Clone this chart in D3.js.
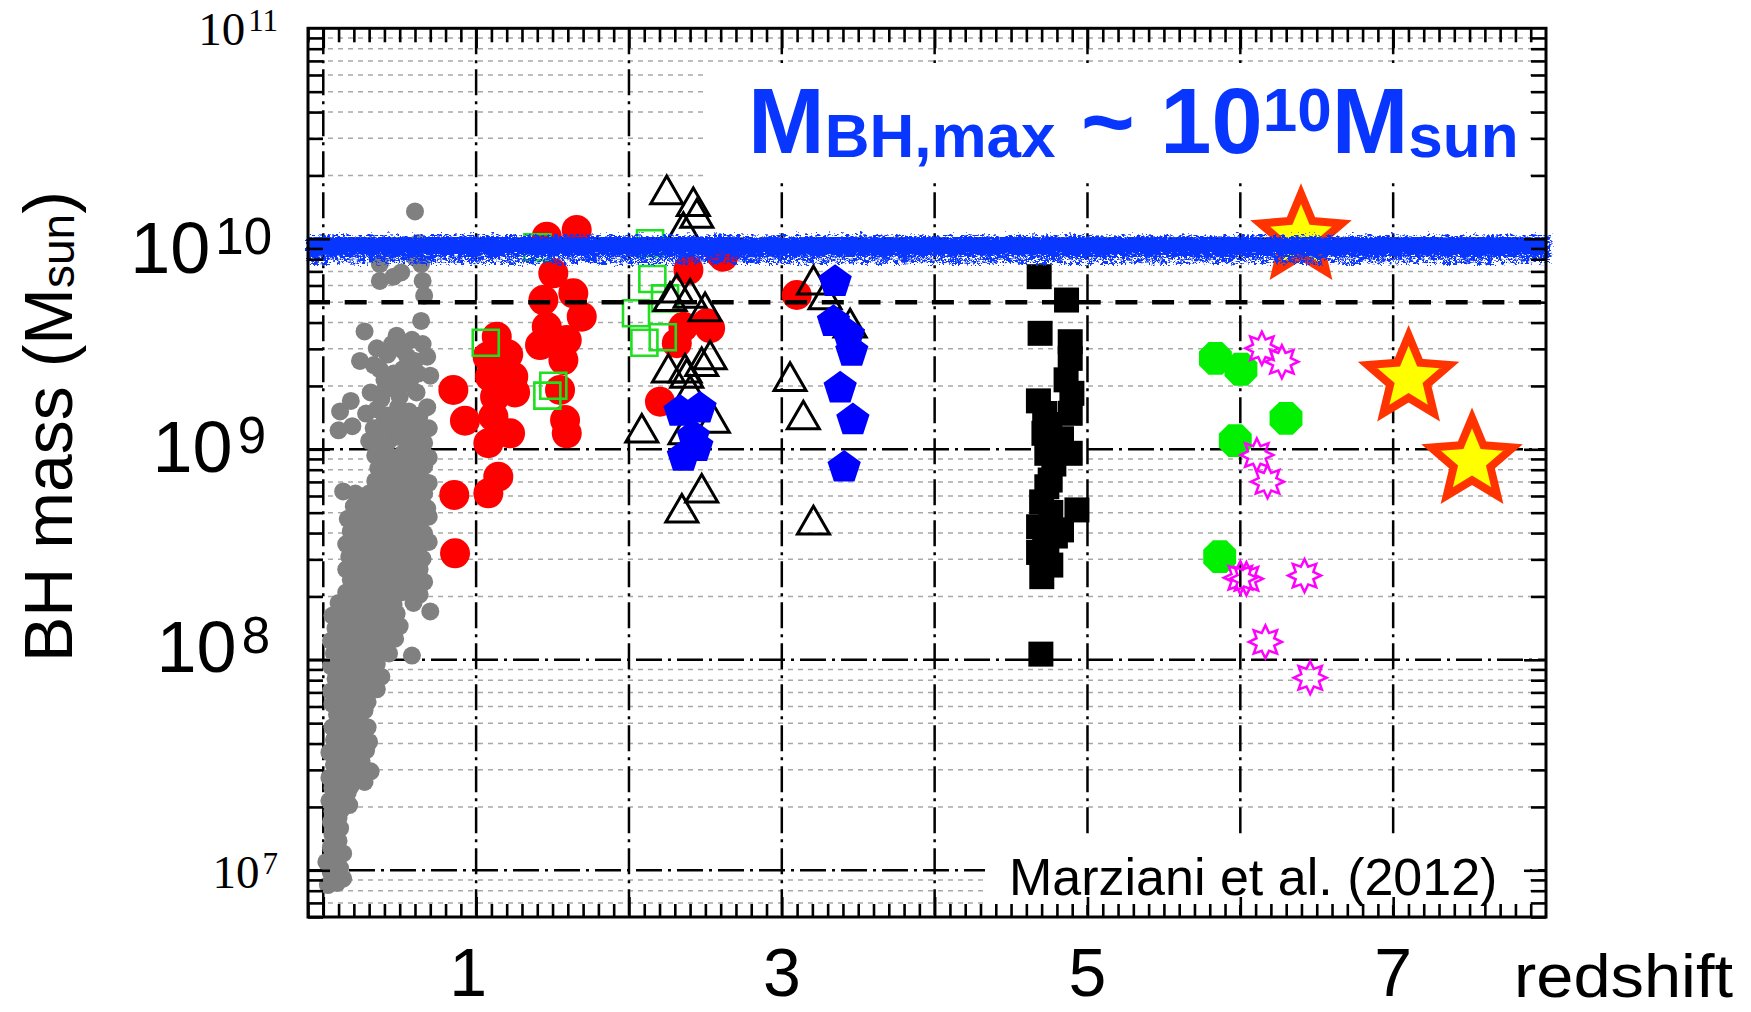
<!DOCTYPE html>
<html><head><meta charset="utf-8">
<script src="https://cdn.jsdelivr.net/npm/d3@7"></script>
<style>html,body{margin:0;padding:0;background:#fff;} svg{display:block;}</style>
</head><body>
<svg id="chart" width="1751" height="1012"></svg>
<script>
// ---------------- DATA ----------------
const xDomain = [-0.1, 8];
const yDomain = [6e6, 1e11];
const xTickLabels = [1, 3, 5, 7];
const yTickExponents = [7, 8, 9, 10, 11];
const xGridValues = [0, 1, 2, 3, 4, 5, 6, 7];
const yMajorGrid = [1e7, 1e8, 1e9, 1e10];
const dashedLineMass = 5e9;
const bandZ = [-0.12, 8.01];
const bandLogM = [9.89, 9.93, 10.04];

// points: [redshift, log10(M_BH)]
const grayPoints = [
[0.03,6.93],[0.09,6.94],[0.13,6.96],[0.05,6.99],[0.11,7.01],[0.02,7.04],[0.08,7.06],[0.13,7.08],
[0.05,7.11],[0.10,7.14],[0.06,7.17],[0.11,7.20],[0.05,7.23],[0.10,7.25],
[0.06,7.28],[0.12,7.29],[0.17,7.31],[0.04,7.33],[0.10,7.35],[0.16,7.37],[0.06,7.39],[0.13,7.41],[0.18,7.40],
[0.04,7.44],[0.10,7.45],[0.16,7.43],[0.22,7.45],[0.27,7.42],[0.31,7.47],[0.07,7.50],[0.13,7.51],[0.19,7.50],[0.25,7.52],[0.04,7.56],[0.10,7.57],[0.16,7.56],[0.22,7.58],[0.28,7.57],[0.07,7.62],[0.13,7.63],[0.19,7.62],[0.25,7.63],[0.30,7.61],
[0.06,7.68],[0.12,7.69],[0.18,7.67],[0.24,7.70],[0.29,7.68],[0.09,7.74],[0.15,7.75],[0.21,7.73],[0.27,7.76],[0.06,7.79],[0.12,7.80],[0.18,7.79],[0.24,7.81],[0.29,7.80],
[0.05,7.85],[0.11,7.86],[0.17,7.84],[0.23,7.87],[0.29,7.85],[0.35,7.86],[0.08,7.91],[0.14,7.92],[0.20,7.90],[0.26,7.93],[0.32,7.91],[0.38,7.92],[0.05,7.97],[0.11,7.98],[0.17,7.96],[0.23,7.99],[0.29,7.97],[0.35,7.98],
[0.07,8.03],[0.13,8.04],[0.19,8.02],[0.25,8.05],[0.31,8.03],[0.37,8.05],[0.43,8.03],[0.58,8.02],[0.05,8.09],[0.11,8.10],[0.17,8.08],[0.23,8.11],[0.29,8.09],[0.35,8.11],[0.41,8.09],[0.47,8.10],[0.08,8.15],[0.14,8.16],[0.20,8.14],[0.26,8.17],[0.32,8.15],[0.38,8.17],[0.44,8.15],[0.50,8.16],[0.06,8.21],[0.12,8.22],[0.18,8.20],[0.24,8.23],[0.30,8.21],[0.36,8.23],[0.42,8.21],[0.48,8.22],[0.70,8.23],[0.10,8.27],[0.16,8.28],[0.22,8.26],[0.28,8.28],[0.34,8.27],[0.40,8.28],[0.46,8.26],[0.59,8.27],
[0.15,8.32],[0.21,8.33],[0.27,8.31],[0.33,8.34],[0.39,8.32],[0.45,8.34],[0.51,8.32],[0.57,8.33],[0.63,8.31],[0.18,8.38],[0.24,8.39],[0.30,8.37],[0.36,8.39],[0.42,8.38],[0.48,8.40],[0.54,8.38],[0.60,8.39],[0.66,8.37],[0.15,8.43],[0.21,8.44],[0.27,8.43],[0.33,8.44],[0.39,8.43],[0.45,8.44],[0.51,8.43],[0.57,8.44],[0.63,8.43],
[0.17,8.49],[0.23,8.50],[0.29,8.48],[0.35,8.50],[0.41,8.49],[0.47,8.51],[0.53,8.49],[0.59,8.50],[0.65,8.48],[0.15,8.55],[0.21,8.56],[0.27,8.54],[0.33,8.56],[0.39,8.55],[0.45,8.57],[0.51,8.55],[0.57,8.56],[0.63,8.54],[0.69,8.56],[0.18,8.61],[0.24,8.62],[0.30,8.60],[0.36,8.62],[0.42,8.61],[0.48,8.63],[0.54,8.61],[0.60,8.62],[0.66,8.60],[0.16,8.67],[0.22,8.68],[0.28,8.66],[0.34,8.68],[0.40,8.67],[0.46,8.69],[0.52,8.67],[0.58,8.68],[0.64,8.66],[0.69,8.68],[0.20,8.73],[0.26,8.74],[0.32,8.72],[0.38,8.74],[0.44,8.73],[0.50,8.75],[0.56,8.73],[0.62,8.74],[0.68,8.72],
[0.13,8.80],[0.21,8.79],[0.30,8.79],[0.36,8.80],[0.42,8.79],[0.48,8.81],[0.54,8.79],[0.60,8.80],[0.66,8.79],[0.34,8.85],[0.40,8.86],[0.46,8.84],[0.52,8.86],[0.58,8.85],[0.64,8.86],[0.69,8.84],[0.36,8.91],[0.42,8.92],[0.48,8.90],[0.54,8.92],[0.60,8.91],[0.66,8.92],[0.34,8.97],[0.40,8.98],[0.46,8.96],[0.52,8.98],[0.58,8.97],[0.64,8.98],[0.69,8.96],
[0.10,9.09],[0.19,9.11],[0.30,9.04],[0.36,9.05],[0.42,9.03],[0.48,9.06],[0.54,9.04],[0.60,9.05],[0.66,9.03],[0.33,9.10],[0.39,9.12],[0.45,9.10],[0.51,9.13],[0.57,9.11],[0.63,9.12],[0.69,9.10],
[0.11,9.18],[0.18,9.23],[0.31,9.27],[0.44,9.30],[0.57,9.33],[0.61,9.27],[0.68,9.20],[0.28,9.17],[0.35,9.19],[0.42,9.16],[0.49,9.20],[0.56,9.18],[0.63,9.16],[0.38,9.24],[0.50,9.25],[0.47,9.15],[0.40,9.33],[0.53,9.31],[0.40,9.28],
[0.27,9.56],[0.48,9.54],[0.65,9.50],[0.24,9.42],[0.45,9.50],[0.55,9.44],[0.37,9.38],[0.70,9.35],[0.64,9.61],[0.33,9.40],[0.42,9.45],[0.52,9.38],[0.60,9.42],[0.58,9.52],[0.46,9.36],[0.62,9.36],[0.35,9.48],[0.52,9.47],[0.68,9.44],
[0.37,9.88],[0.37,9.80],[0.46,9.82],[0.51,9.84],[0.64,9.88],[0.65,9.80],[0.66,9.73],[0.60,9.91],[0.45,9.95],[0.62,9.98],
[0.60,10.13]
];
const redCircles = [
[0.851,9.282],[0.927,9.136],[0.857,8.783],[0.862,8.506],
[1.135,9.535],[1.210,9.450],[1.075,9.440],[1.243,9.345],[1.091,9.345],[1.124,9.250],[1.255,9.270],[1.113,9.155],[1.222,9.076],[1.080,9.029],[1.145,8.870],[1.080,8.791],
[1.462,10.010],[1.658,10.042],[1.505,9.836],[1.636,9.741],[1.440,9.709],[1.691,9.630],[1.462,9.582],[1.418,9.495],[1.593,9.519],[1.571,9.424],[1.549,9.282],[1.582,9.139],[1.593,9.076],
[2.389,9.852],[2.596,9.931],[2.356,9.582],[2.531,9.575],[2.313,9.504],[2.203,9.226],[2.509,9.599],[2.616,9.915],
[3.098,9.733]
];
const greenSquares = [
[1.063,9.506],[1.505,9.302],[1.466,9.255],[1.401,9.960],[2.138,9.979],[2.153,9.809],[2.236,9.717],[2.046,9.646],[2.221,9.532],[2.101,9.506]
];
const openTriangles = [
[2.247,10.232],[2.421,10.176],[2.444,10.121],[2.356,10.058],[2.313,9.765],[2.400,9.741],[2.269,9.725],[2.498,9.677],[2.531,9.448],[2.476,9.416],[2.258,9.385],[2.367,9.385],[2.378,9.361],[2.400,9.282],[2.552,9.147],[2.084,9.100],[2.367,9.092],[2.476,8.815],[2.346,8.720],
[3.054,9.345],[3.141,9.163],[3.207,8.664],[3.207,9.804],[3.283,9.733],[3.447,9.599]
];
const bluePentagons = [
[2.334,9.179],[2.465,9.194],[2.421,9.060],[2.356,8.965],[2.444,9.012],
[3.349,9.796],[3.338,9.606],[3.436,9.543],[3.458,9.464],[3.382,9.290],[3.465,9.139],[3.408,8.914]
];
const blackSquares = [
[4.684,9.820],[4.863,9.709],[4.690,9.551],[4.887,9.511],[4.887,9.432],[4.898,9.266],[4.679,9.230],[4.887,9.171],[4.754,9.118],[4.715,9.076],[4.887,8.981],[4.734,8.981],[4.756,8.854],[4.734,8.822],[4.931,8.712],[4.680,8.632],[4.830,8.617],[4.790,8.588],[4.734,8.480],[4.701,8.395],[4.695,8.027],
[4.700,8.750],[4.760,8.700],[4.720,8.550],[4.760,8.450],[4.680,8.510],[4.720,9.170],[4.830,9.050],[4.780,8.930],[4.860,9.330]
];
const greenOctagons = [
[5.837,9.432],[6.004,9.380],[6.299,9.147],[5.967,9.041],[5.865,8.490]
];
const magentaStars = [
[6.141,9.480],[6.272,9.416],[6.108,8.973],[6.178,8.846],[6.000,8.390],[6.040,8.385],[6.420,8.400],[6.164,8.085],[6.457,7.915]
];
const yellowStars = [
[6.397,10.010],[7.101,9.337],[7.516,8.945]
];

// ---------------- LAYOUT ----------------
const plotL = 308, plotR = 1546, plotT = 28.3, plotB = 917;
const svg = d3.select("#chart");
const x = d3.scaleLinear().domain(xDomain).range([plotL, plotR]);
const y = d3.scaleLog().domain(yDomain).range([plotB, plotT]);
const Y = v => y(Math.pow(10, v));
const SANS = "'Liberation Sans', Arial, Helvetica, sans-serif";
const SERIF = "'Liberation Serif', 'Times New Roman', serif";

// defs: filters for the noisy band
const defs = svg.append("defs");
const f1 = defs.append("filter").attr("id","ragged").attr("filterUnits","userSpaceOnUse")
  .attr("x",280).attr("y",200).attr("width",1300).attr("height",100)
  .attr("color-interpolation-filters","sRGB");
f1.append("feTurbulence").attr("type","turbulence").attr("baseFrequency","0.22 0.35").attr("numOctaves",2).attr("seed",4).attr("result","t");
f1.append("feDisplacementMap").attr("in","SourceGraphic").attr("in2","t").attr("scale",11).attr("xChannelSelector","R").attr("yChannelSelector","G");
const f2 = defs.append("filter").attr("id","speckle").attr("filterUnits","userSpaceOnUse")
  .attr("x",280).attr("y",200).attr("width",1300).attr("height",100)
  .attr("color-interpolation-filters","sRGB");
f2.append("feTurbulence").attr("type","fractalNoise").attr("baseFrequency","0.22 0.3").attr("numOctaves",2).attr("seed",11).attr("result","n");
f2.append("feColorMatrix").attr("in","n").attr("type","matrix")
  .attr("values","0 0 0 0 0  0 0 0 0 0  0 0 0 0 0  10 0 0 0 -4.3").attr("result","m");
f2.append("feComposite").attr("in","SourceGraphic").attr("in2","m").attr("operator","in").attr("result","s");
f2.append("feTurbulence").attr("type","turbulence").attr("baseFrequency","0.22 0.35").attr("numOctaves",2).attr("seed",5).attr("result","t");
f2.append("feDisplacementMap").attr("in","s").attr("in2","t").attr("scale",9).attr("xChannelSelector","R").attr("yChannelSelector","G");

// minor horizontal grid
const minorY = [];
for (let n = 6; n <= 10; n++) for (let k = 2; k <= 9; k++) {
  const v = k * Math.pow(10, n);
  if (v >= yDomain[0] && v < yDomain[1]) minorY.push(v);
}
svg.append("g").selectAll("line").data(minorY).join("line")
  .attr("x1", plotL).attr("x2", plotR).attr("y1", d => y(d)).attr("y2", d => y(d))
  .attr("stroke", "#a8a8a8").attr("stroke-width", 1.5).attr("stroke-dasharray", "5,5");

// major dash-dot grid
svg.append("g").selectAll("line").data(yMajorGrid).join("line")
  .attr("x1", plotL).attr("x2", plotR).attr("y1", d => y(d)).attr("y2", d => y(d))
  .attr("stroke", "#000").attr("stroke-width", 2.5).attr("stroke-dasharray", "26,6,3,6");
svg.append("g").selectAll("line").data(xGridValues).join("line")
  .attr("x1", d => x(d)).attr("x2", d => x(d)).attr("y1", plotT).attr("y2", plotB)
  .attr("stroke", "#000").attr("stroke-width", 2.5).attr("stroke-dasharray", "26,6,3,6");

// white boxes behind the texts
svg.append("rect").attr("x", 708).attr("y", 63).attr("width", 822).attr("height", 115).attr("fill", "#fff");
svg.append("rect").attr("x", 985).attr("y", 838).attr("width", 545).attr("height", 67).attr("fill", "#fff");

// symbol types
const polygonType = (n, rot) => ({ draw(ctx, r) {
  for (let i = 0; i < n; i++) { const a = (rot + i * 360 / n) * Math.PI / 180;
    const px = r * Math.cos(a), py = r * Math.sin(a); i ? ctx.lineTo(px, py) : ctx.moveTo(px, py); }
  ctx.closePath(); } });
const starType = (n, ratio) => ({ draw(ctx, r) {
  for (let i = 0; i < 2 * n; i++) { const a = (-90 + i * 180 / n) * Math.PI / 180;
    const rr = i % 2 ? r * ratio : r; const px = rr * Math.cos(a), py = rr * Math.sin(a);
    i ? ctx.lineTo(px, py) : ctx.moveTo(px, py); }
  ctx.closePath(); } });
const triType = { draw(ctx, r) { const h = r * 2 * 0.866; ctx.moveTo(0, -h / 2); ctx.lineTo(r, h / 2); ctx.lineTo(-r, h / 2); ctx.closePath(); } };
const sqType = { draw(ctx, s) { ctx.rect(-s / 2, -s / 2, s, s); } };

function drawSymbols(data, type, size, fill, stroke, sw) {
  svg.append("g").selectAll("path").data(data).join("path")
    .attr("transform", d => `translate(${x(d[0])},${Y(d[1])})`)
    .attr("d", d3.symbol(type, size))
    .attr("fill", fill).attr("stroke", stroke).attr("stroke-width", sw).attr("stroke-linejoin", "miter");
}
function drawCircles(data, r, fill) {
  svg.append("g").selectAll("circle").data(data).join("circle")
    .attr("cx", d => x(d[0])).attr("cy", d => Y(d[1])).attr("r", r).attr("fill", fill);
}

drawCircles(grayPoints, 9, "#808080");
drawCircles(redCircles, 15, "#ff0000");
drawSymbols(greenSquares, sqType, 26, "none", "#1fe01f", 2.6);
drawSymbols(openTriangles, triType, 16, "none", "#000", 3);
drawSymbols(bluePentagons, polygonType(5, -90), 17.5, "#0000ff", "none", 0);
drawSymbols(blackSquares, sqType, 25, "#000", "none", 0);
drawSymbols(greenOctagons, polygonType(8, 22.5), 17.8, "#00f000", "none", 0);
drawSymbols(magentaStars, starType(8, 0.58), 16.5, "none", "#ff00ff", 2.5);
drawSymbols(yellowStars, starType(5, 0.45), 43, "#ffff00", "#ff3300", 8);

// noisy blue band (M_BH,max)
const bandG = svg.append("g");
bandG.append("rect").attr("x", x(bandZ[0])).attr("width", x(bandZ[1]) - x(bandZ[0]))
  .attr("y", Y(bandLogM[2]) + 3).attr("height", Y(bandLogM[1]) - Y(bandLogM[2]) - 3)
  .attr("fill", "#0836ff").attr("filter", "url(#ragged)");
bandG.append("rect").attr("x", x(bandZ[0])).attr("width", x(bandZ[1]) - x(bandZ[0]))
  .attr("y", Y(bandLogM[1]) - 3).attr("height", Y(bandLogM[0]) - Y(bandLogM[1]) + 3)
  .attr("fill", "#0836ff").attr("filter", "url(#speckle)");

// dashed line at 5e9
svg.append("line").attr("x1", plotL).attr("x2", plotR).attr("y1", y(dashedLineMass)).attr("y2", y(dashedLineMass))
  .attr("stroke", "#000").attr("stroke-width", 4.5).attr("stroke-dasharray", "22,14.7");

// ticks
const minorX = d3.range(-1, 81).map(i => i / 10);
function tickG(axis, tx, ty) {
  const g = svg.append("g").attr("transform", `translate(${tx},${ty})`).call(axis);
  g.select(".domain").remove();
  g.selectAll("line").attr("stroke", "#000").attr("stroke-width", 2.6);
  g.selectAll("text").remove();
  return g;
}
const nonInt = minorX.filter(v => Math.abs(v - Math.round(v)) > 1e-6);
tickG(d3.axisBottom(x).tickValues(nonInt).tickSize(-13).tickFormat(""), 0, plotB);
tickG(d3.axisBottom(x).tickValues(xGridValues).tickSize(-20).tickFormat(""), 0, plotB);
tickG(d3.axisTop(x).tickValues(nonInt).tickSize(-14).tickFormat(""), 0, plotT);
tickG(d3.axisTop(x).tickValues(xGridValues).tickSize(-20).tickFormat(""), 0, plotT);
tickG(d3.axisLeft(y).tickValues(minorY).tickSize(-15).tickFormat(""), plotL, 0);
tickG(d3.axisLeft(y).tickValues(yMajorGrid).tickSize(-22).tickFormat(""), plotL, 0);
tickG(d3.axisRight(y).tickValues(minorY).tickSize(-15).tickFormat(""), plotR, 0);
tickG(d3.axisRight(y).tickValues(yMajorGrid).tickSize(-22).tickFormat(""), plotR, 0);

// frame
svg.append("rect").attr("x", plotL).attr("y", plotT).attr("width", plotR - plotL).attr("height", plotB - plotT)
  .attr("fill", "none").attr("stroke", "#000").attr("stroke-width", 3);

// y tick labels (single text element each: base "10" + superscript exponent)
const bigStyle = { 10: [0, 34], 9: [-6, 23], 8: [-2, 12] };
const smallStyle = { 11: [0, 17], 7: [0, 18] };
yTickExponents.forEach(e => {
  const ty = y(Math.pow(10, e));
  if (bigStyle[e]) {
    const [dx, dy] = bigStyle[e];
    const t = svg.append("text").attr("x", 272 + dx).attr("y", ty + dy).attr("text-anchor", "end")
      .attr("font-family", SANS).attr("font-size", 72);
    t.append("tspan").text("10");
    t.append("tspan").attr("font-size", 51).attr("dx", 5).attr("dy", -19).text(String(e));
  } else {
    const [dx, dy] = smallStyle[e];
    const t = svg.append("text").attr("x", 278 + dx).attr("y", ty + dy).attr("text-anchor", "end")
      .attr("font-family", SERIF).attr("font-size", 47);
    t.append("tspan").text("10");
    t.append("tspan").attr("font-size", 31).attr("dx", 3).attr("dy", -14).text(String(e));
  }
});

// x tick labels
svg.append("g").selectAll("text").data(xTickLabels).join("text")
  .attr("x", d => x(d) + (d === 1 ? -8 : 0)).attr("y", 996).attr("text-anchor", "middle")
  .attr("font-family", SANS).attr("font-size", 68).text(d => d);
svg.append("text").attr("x", 1514).attr("y", 997).attr("font-family", SANS).attr("font-size", 62)
  .attr("textLength", 219).attr("lengthAdjust", "spacingAndGlyphs").text("redshift");

// y title
const yt = svg.append("text").attr("transform", "translate(72,662) rotate(-90)")
  .attr("font-family", SANS).attr("font-size", 68).attr("fill", "#000");
yt.append("tspan").text("BH mass (M");
yt.append("tspan").attr("font-size", 46).attr("dy", 2).text("sun");
yt.append("tspan").attr("dy", -2).text(")");

// annotation
const ann = svg.append("text").attr("x", 748).attr("y", 153).attr("font-family", SANS)
  .attr("font-weight", "bold").attr("fill", "#0836ff").attr("font-size", 92);
ann.append("tspan").text("M");
ann.append("tspan").attr("font-size", 62).attr("dy", 4).text("BH,max");
ann.append("tspan").attr("dy", -4).text(" ~ 10");
ann.append("tspan").attr("font-size", 62).attr("dy", -22).text("10");
ann.append("tspan").attr("dy", 22).text("M");
ann.append("tspan").attr("font-size", 62).attr("dy", 4).text("sun");

svg.append("text").attr("x", 1009).attr("y", 895).attr("font-family", SANS).attr("font-size", 52)
  .attr("fill", "#000").text("Marziani et al. (2012)");
</script>
</body></html>
